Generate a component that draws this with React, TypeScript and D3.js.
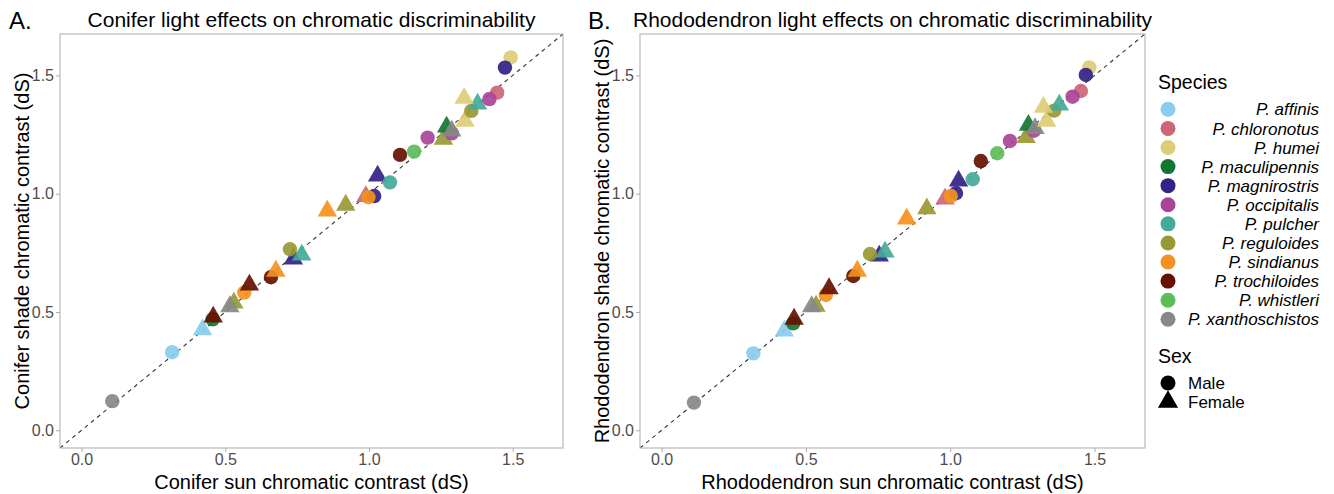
import React, { useEffect, useRef } from "react";
import * as d3 from "d3";

const speciesNames = [
  "P. affinis",
  "P. chloronotus",
  "P. humei",
  "P. maculipennis",
  "P. magnirostris",
  "P. occipitalis",
  "P. pulcher",
  "P. reguloides",
  "P. sindianus",
  "P. trochiloides",
  "P. whistleri",
  "P. xanthoschistos",
];
const speciesColors = [
  "#88CCEE",
  "#CC6677",
  "#DDCC77",
  "#117733",
  "#332288",
  "#AA4499",
  "#44AA99",
  "#999933",
  "#F5911E",
  "#661100",
  "#5CBD5A",
  "#888888",
];
const sexLabels = ["Male", "Female"];

// one entry per point, same order in both panels (index into speciesNames)
const pointSpecies = [
  11, 0, 0, 3, 9, 7, 11, 8, 9, 9, 8, 4, 6, 7, 8, 7, 1, 4, 8, 4, 6, 9, 10, 5, 7, 5, 3,
  11, 2, 7, 6, 2, 1, 5, 2, 4,
];
const pointSex = [
  "M", "M", "F", "M", "F", "F", "F", "M", "F", "M", "F", "F", "F", "M", "F", "F", "F", "M",
  "M", "F", "M", "M", "M", "M", "F", "M", "F", "F", "F", "M", "F", "F", "M", "M", "M", "M",
];
const coniferSun = [
  0.107, 0.315, 0.421, 0.456, 0.458, 0.53, 0.516, 0.566, 0.584, 0.659, 0.676, 0.737, 0.766,
  0.725, 0.855, 0.919, 0.989, 1.018, 0.998, 1.03, 1.073, 1.108, 1.157, 1.204, 1.259, 1.288,
  1.27, 1.288, 1.334, 1.356, 1.378, 1.331, 1.446, 1.419, 1.493, 1.473,
];
const coniferShade = [
  0.123, 0.33, 0.425, 0.469, 0.479, 0.538, 0.523, 0.582, 0.614, 0.647, 0.673, 0.724, 0.741,
  0.765, 0.927, 0.952, 0.988, 0.99, 0.985, 1.075, 1.048, 1.164, 1.178, 1.237, 1.231, 1.255,
  1.282, 1.265, 1.307, 1.35, 1.379, 1.404, 1.427, 1.4, 1.576, 1.533,
];
const rhodoSun = [
  0.112, 0.318, 0.425, 0.456, 0.459, 0.535, 0.52, 0.569, 0.58, 0.664, 0.678, 0.754, 0.774,
  0.722, 0.849, 0.919, 0.982, 1.02, 1.002, 1.029, 1.078, 1.106, 1.163, 1.207, 1.263, 1.29,
  1.271, 1.294, 1.334, 1.36, 1.378, 1.323, 1.453, 1.424, 1.482, 1.47,
];
const rhodoShade = [
  0.117, 0.325, 0.42, 0.452, 0.47, 0.525, 0.523, 0.572, 0.599, 0.652, 0.673, 0.737, 0.754,
  0.745, 0.893, 0.937, 0.978, 1.002, 0.99, 1.054, 1.061, 1.138, 1.171, 1.223, 1.238, 1.266,
  1.29, 1.276, 1.307, 1.351, 1.375, 1.366, 1.434, 1.41, 1.534, 1.502,
];
const tickValues = [0, 0.5, 1, 1.5];
const axisLimits = [-0.075, 1.675];

const FONT = "'Liberation Sans', Arial, Helvetica, sans-serif";

export default function App() {
  const ref = useRef(null);

  useEffect(() => {
    const svg = d3.select(ref.current);
    svg.selectAll("*").remove();

    const pointSize = Math.PI * 7.2 * 7.2;
    const symbolFor = (sex) => (sex === "M" ? d3.symbolCircle : d3.symbolTriangle);

    const drawPanel = (opts) => {
      const { left, right, top, bottom, xs, ys, tag, tagX, title, xTitle, yTitle, yTitleX } = opts;
      const x = d3.scaleLinear().domain(axisLimits).range([left, right]);
      const y = d3.scaleLinear().domain(axisLimits).range([bottom, top]);
      const clipId = "clip-" + tag.replace(".", "");

      svg
        .append("clipPath")
        .attr("id", clipId)
        .append("rect")
        .attr("x", left)
        .attr("y", top)
        .attr("width", right - left)
        .attr("height", bottom - top);

      // 1:1 reference line
      svg
        .append("line")
        .attr("clip-path", `url(#${clipId})`)
        .attr("x1", x(axisLimits[0]))
        .attr("y1", y(axisLimits[0]))
        .attr("x2", x(axisLimits[1]))
        .attr("y2", y(axisLimits[1]))
        .attr("stroke", "#333")
        .attr("stroke-width", 1.1)
        .attr("stroke-dasharray", "4,4");

      const pts = svg.append("g").attr("clip-path", `url(#${clipId})`);
      xs.forEach((xv, i) => {
        pts
          .append("path")
          .attr("d", d3.symbol().type(symbolFor(pointSex[i])).size(pointSize)())
          .attr("transform", `translate(${x(xv)},${y(ys[i])})`)
          .attr("fill", speciesColors[pointSpecies[i]])
          .attr("fill-opacity", 0.92);
      });

      // border
      svg
        .append("rect")
        .attr("x", left)
        .attr("y", top)
        .attr("width", right - left)
        .attr("height", bottom - top)
        .attr("fill", "none")
        .attr("stroke", "#ABABAB")
        .attr("stroke-width", 1);

      const xAxis = svg
        .append("g")
        .attr("transform", `translate(0,${bottom})`)
        .call(d3.axisBottom(x).tickValues(tickValues).tickFormat(d3.format(".1f")).tickSize(4).tickPadding(2));
      const yAxis = svg
        .append("g")
        .attr("transform", `translate(${left},0)`)
        .call(d3.axisLeft(y).tickValues(tickValues).tickFormat(d3.format(".1f")).tickSize(4).tickPadding(2));
      [xAxis, yAxis].forEach((a) => {
        a.select(".domain").remove();
        a.selectAll(".tick line").attr("stroke", "#ABABAB");
        a.selectAll(".tick text")
          .attr("fill", "#4D4D4D")
          .style("font-size", "16px")
          .style("font-family", FONT);
      });

      svg
        .append("text")
        .attr("x", tagX)
        .attr("y", 29)
        .style("font-size", "24px")
        .style("font-family", FONT)
        .text(tag);

      svg
        .append("text")
        .attr("x", (left + right) / 2)
        .attr("y", 27)
        .attr("text-anchor", "middle")
        .style("font-size", "21px")
        .style("font-family", FONT)
        .text(title);

      svg
        .append("text")
        .attr("x", (left + right) / 2)
        .attr("y", 489)
        .attr("text-anchor", "middle")
        .style("font-size", "20px")
        .style("font-family", FONT)
        .text(xTitle);

      svg
        .append("text")
        .attr("transform", `translate(${yTitleX},${(top + bottom) / 2}) rotate(-90)`)
        .attr("text-anchor", "middle")
        .style("font-size", "20px")
        .style("font-family", FONT)
        .text(yTitle);
    };

    drawPanel({
      left: 60,
      right: 563,
      top: 34,
      bottom: 448,
      xs: coniferSun,
      ys: coniferShade,
      tag: "A.",
      tagX: 9,
      title: "Conifer light effects on chromatic discriminability",
      xTitle: "Conifer sun chromatic contrast (dS)",
      yTitle: "Conifer shade chromatic contrast (dS)",
      yTitleX: 29,
    });
    drawPanel({
      left: 640,
      right: 1145,
      top: 34,
      bottom: 448,
      xs: rhodoSun,
      ys: rhodoShade,
      tag: "B.",
      tagX: 588,
      title: "Rhododendron light effects on chromatic discriminability",
      xTitle: "Rhododendron sun chromatic contrast (dS)",
      yTitle: "Rhododendron shade chromatic contrast (dS)",
      yTitleX: 609,
    });

    // legend
    const legend = svg.append("g");
    legend
      .append("text")
      .attr("x", 1158)
      .attr("y", 89)
      .style("font-size", "19.5px")
      .style("font-family", FONT)
      .text("Species");
    const rowY = d3.scalePoint().domain(speciesNames).range([109.3, 319.3]);
    speciesNames.forEach((name, i) => {
      legend
        .append("circle")
        .attr("cx", 1168)
        .attr("cy", rowY(name))
        .attr("r", 7.5)
        .attr("fill", speciesColors[i]);
      legend
        .append("text")
        .attr("x", 1319)
        .attr("y", rowY(name))
        .attr("dy", "0.36em")
        .attr("text-anchor", "end")
        .style("font-size", "17px")
        .style("font-style", "italic")
        .style("font-family", FONT)
        .text(name);
    });

    legend
      .append("text")
      .attr("x", 1158)
      .attr("y", 363)
      .style("font-size", "19.5px")
      .style("font-family", FONT)
      .text("Sex");
    const sexY = d3.scalePoint().domain(sexLabels).range([383, 402]);
    sexLabels.forEach((s) => {
      legend
        .append("path")
        .attr("d", d3.symbol().type(symbolFor(s === "Male" ? "M" : "F")).size(Math.PI * 7.5 * 7.5)())
        .attr("transform", `translate(1168,${sexY(s)})`)
        .attr("fill", "#000");
      legend
        .append("text")
        .attr("x", 1188)
        .attr("y", sexY(s))
        .attr("dy", "0.36em")
        .style("font-size", "17px")
        .style("font-family", FONT)
        .text(s);
    });
  }, []);

  return (
    <svg
      ref={ref}
      width={1334}
      height={494}
      style={{ position: "absolute", left: 0, top: 0, background: "#fff" }}
    />
  );
}
